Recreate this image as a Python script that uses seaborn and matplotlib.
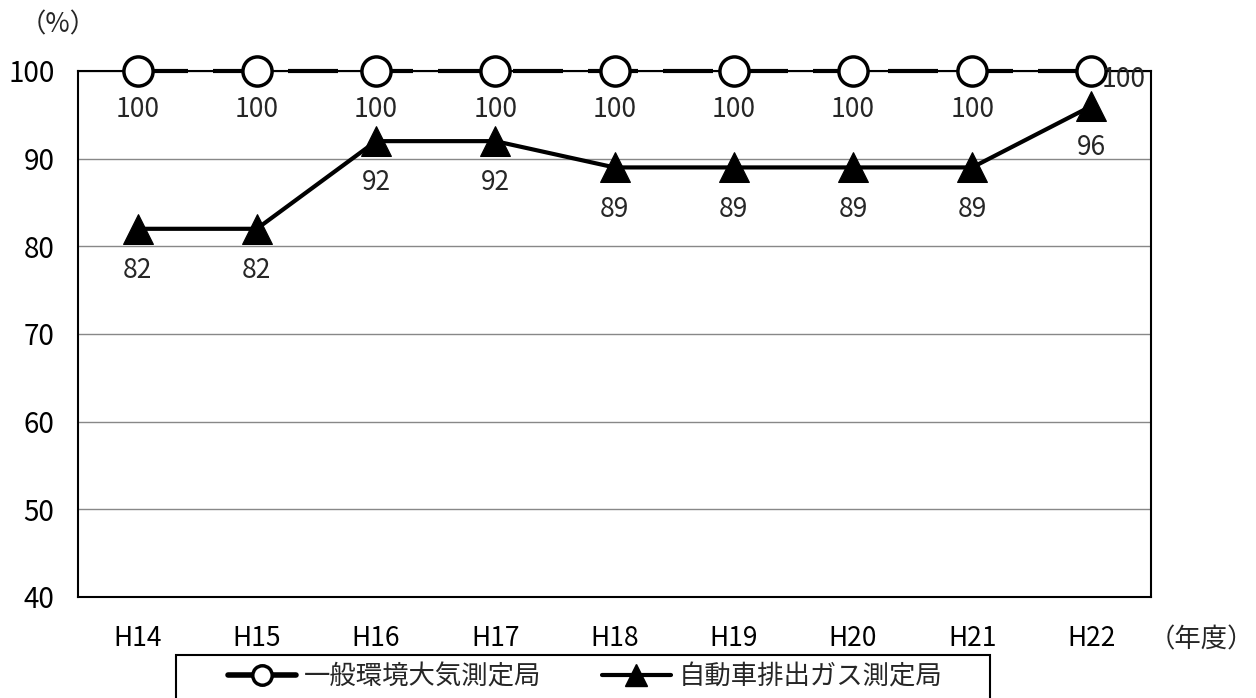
import pandas as pd
import seaborn as sns
import matplotlib.pyplot as plt
from matplotlib.lines import Line2D
from matplotlib.patches import Rectangle

years = ['H14', 'H15', 'H16', 'H17', 'H18', 'H19', 'H20', 'H21', 'H22']
general = [100, 100, 100, 100, 100, 100, 100, 100, 100]
roadside = [82, 82, 92, 92, 89, 89, 89, 89, 96]
label_general = '一般環境大気測定局'
label_roadside = '自動車排出ガス測定局'

sns.set_theme(style='white')
plt.rcParams['font.family'] = ['Noto Sans CJK JP', 'DejaVu Sans']

df = pd.DataFrame({'year': years, 'general': general, 'roadside': roadside})

W, H = 1256, 698
fig = plt.figure(figsize=(W / 100, H / 100), dpi=100)
ax = fig.add_axes([78 / W, 1 - 597 / H, (1151 - 78) / W, (597 - 71) / H])

sns.lineplot(data=df, x='year', y='roadside', ax=ax, color='black', lw=3,
             marker='^', markersize=21, markeredgecolor='black', markerfacecolor='black',
             zorder=4, clip_on=False)
sns.lineplot(data=df, x='year', y='general', ax=ax, color='black', lw=3,
             marker='o', markersize=21, markeredgecolor='black', markerfacecolor='white',
             markeredgewidth=2.5, zorder=5, clip_on=False)
ax.lines[-1].set_dashes([12, 6])

ax.set_xlim(-0.5, len(years) - 0.5)
ax.set_ylim(40, 100)
ax.set_yticks(range(40, 101, 10))
ax.yaxis.grid(True, color='#888888', lw=1)
ax.set_axisbelow(True)
for s in ax.spines.values():
    s.set_color('black')
    s.set_linewidth(1.5)
ax.tick_params(axis='y', length=0, labelsize=20, colors='black', pad=17)
ax.tick_params(axis='x', length=0, labelsize=19, colors='black', pad=20)
ax.set_xlabel('')
ax.set_ylabel('')

for i, (g, r) in enumerate(zip(general, roadside)):
    if i == len(years) - 1:
        ax.annotate(str(g), (i, g), xytext=(23, -6), textcoords='offset points',
                    ha='center', va='center', fontsize=19, zorder=6)
    else:
        ax.annotate(str(g), (i, g), xytext=(0, -28), textcoords='offset points',
                    ha='center', va='center', fontsize=19)
    ax.annotate(str(r), (i, r), xytext=(0, -30), textcoords='offset points',
                ha='center', va='center', fontsize=19)

fig.text(20 / W, 1 - 25 / H, '（%）', fontsize=19, ha='left', va='center')
fig.text(1254 / W, 1 - 640 / H, '（年度）', fontsize=19, ha='right', va='center')

# legend box (frame drawn separately so it can be wider than its content)
fig.patches.append(Rectangle((176 / W, -0.02), (990 - 176) / W, 0.02 + (H - 655) / H,
                             transform=fig.transFigure, fill=False,
                             edgecolor='black', lw=1.5))
handles = [
    Line2D([], [], color='black', lw=4, marker='o', markersize=14,
           markerfacecolor='white', markeredgecolor='black', markeredgewidth=2.5),
    Line2D([], [], color='black', lw=3, marker='^', markersize=16,
           markerfacecolor='black', markeredgecolor='black'),
]
leg = fig.legend(handles, [label_general, label_roadside], ncol=2,
                 loc='center', bbox_to_anchor=(585 / W, 1 - 677 / H),
                 frameon=False, fontsize=19, handlelength=2.6,
                 columnspacing=2.3, borderpad=0.0, handletextpad=0.3)

fig.savefig('out.png', dpi=100)
